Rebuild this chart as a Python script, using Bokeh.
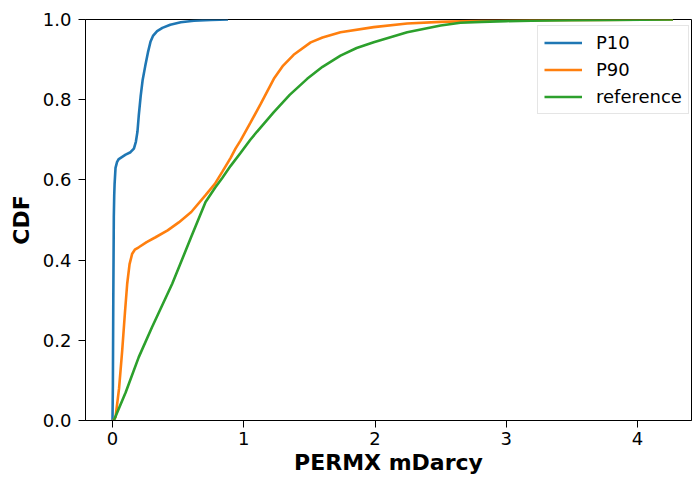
from bokeh.plotting import figure
from bokeh.models import FixedTicker, PrintfTickFormatter, Legend, LegendItem, Range1d
from bokeh.embed import file_html
from bokeh.resources import INLINE

# Data
p10_x = [0, 0.003, 0.006, 0.01, 0.013, 0.016, 0.023, 0.035, 0.048, 0.1, 0.137, 0.163, 0.178,
         0.19, 0.2, 0.215, 0.23, 0.25, 0.27, 0.29, 0.31, 0.34, 0.38, 0.44, 0.52, 0.62, 0.75, 0.88]
p10_y = [0, 0.09, 0.3, 0.507, 0.56, 0.59, 0.63, 0.645, 0.652, 0.663, 0.669, 0.678, 0.695,
         0.72, 0.76, 0.81, 0.85, 0.885, 0.918, 0.945, 0.96, 0.971, 0.979, 0.987, 0.993, 0.997, 0.999, 1.0]

p90_x = [0.005, 0.023, 0.05, 0.074, 0.095, 0.112, 0.13, 0.15, 0.17, 0.2, 0.26, 0.328, 0.42,
         0.505, 0.6, 0.709, 0.78, 0.836, 0.9, 0.937, 0.975, 1.05, 1.13, 1.229, 1.3, 1.38, 1.51,
         1.6, 1.737, 1.99, 2.245, 2.5, 2.8, 3.2, 3.7, 4.27]
p90_y = [0, 0.008, 0.08, 0.175, 0.27, 0.341, 0.39, 0.416, 0.426, 0.432, 0.445, 0.457, 0.474,
         0.494, 0.52, 0.562, 0.59, 0.62, 0.655, 0.678, 0.698, 0.742, 0.79, 0.852, 0.885, 0.912, 0.943,
         0.955, 0.968, 0.981, 0.99, 0.994, 0.997, 0.998, 0.999, 1.0]

ref_x = [0.01, 0.1, 0.2, 0.3, 0.455, 0.6, 0.709, 0.78, 0.836, 0.9, 0.975, 1.05, 1.1, 1.229, 1.35,
         1.483, 1.6, 1.737, 1.86, 1.99, 2.245, 2.5, 2.65, 2.81, 3.0, 3.19, 3.5, 3.8, 4.27]
ref_y = [0.0, 0.07, 0.158, 0.232, 0.341, 0.458, 0.545, 0.58, 0.605, 0.635, 0.667, 0.7, 0.72,
         0.769, 0.812, 0.852, 0.882, 0.910, 0.929, 0.943, 0.968, 0.985, 0.992, 0.994, 0.996, 0.997,
         0.998, 0.999, 1.0]

x_ticks = [0, 1, 2, 3, 4]
y_ticks = [0.0, 0.2, 0.4, 0.6, 0.8, 1.0]

FONT = "DejaVu Sans"

p = figure(width=692, height=481, output_backend="svg", toolbar_location=None,
           x_range=Range1d(-0.2057, 4.411), y_range=Range1d(0, 1.0))
p.min_border_left = 85
p.min_border_top = 19
p.min_border_bottom = 61
p.min_border_right = 1
p.grid.visible = False
p.outline_line_color = "black"
p.outline_line_width = 1
p.background_fill_color = "white"
p.border_fill_color = "white"

r1 = p.line(p10_x, p10_y, line_color="#1f77b4", line_width=2.6)
r2 = p.line(p90_x, p90_y, line_color="#ff7f0e", line_width=2.6)
r3 = p.line(ref_x, ref_y, line_color="#2ca02c", line_width=2.6)

for ax in (p.xaxis[0], p.yaxis[0]):
    ax.axis_line_color = "black"
    ax.axis_line_width = 1
    ax.major_tick_line_color = "black"
    ax.major_tick_line_width = 1
    ax.major_tick_out = 7
    ax.major_tick_in = 0
    ax.minor_tick_line_color = None
    ax.major_label_text_font = FONT
    ax.major_label_text_font_size = "18px"
    ax.major_label_text_color = "black"
    ax.axis_label_text_font = FONT
    ax.axis_label_text_font_size = "22px"
    ax.axis_label_text_font_style = "bold"
    ax.axis_label_text_color = "black"

p.xaxis[0].ticker = FixedTicker(ticks=x_ticks)
p.yaxis[0].ticker = FixedTicker(ticks=y_ticks)
p.yaxis[0].formatter = PrintfTickFormatter(format="%.1f")
p.xaxis[0].axis_label = "PERMX mDarcy"
p.yaxis[0].axis_label = "CDF"
p.xaxis[0].major_label_standoff = 4
p.yaxis[0].major_label_standoff = 7
p.xaxis[0].axis_label_standoff = 2
p.yaxis[0].axis_label_standoff = 6

legend = Legend(items=[LegendItem(label="P10", renderers=[r1]),
                       LegendItem(label="P90", renderers=[r2]),
                       LegendItem(label="reference", renderers=[r3])],
                location=(452, 306))
legend.margin = 0
legend.padding = 6
legend.spacing = 6
legend.glyph_width = 38
legend.glyph_height = 21
legend.label_height = 21
legend.label_standoff = 14
legend.label_text_font = FONT
legend.label_text_font_size = "18px"
legend.label_text_color = "black"
legend.border_line_color = "#cccccc"
legend.border_line_width = 1
legend.background_fill_color = "white"
legend.background_fill_alpha = 0.8
p.add_layout(legend)

open("out.html", "w").write(file_html(p, INLINE))
